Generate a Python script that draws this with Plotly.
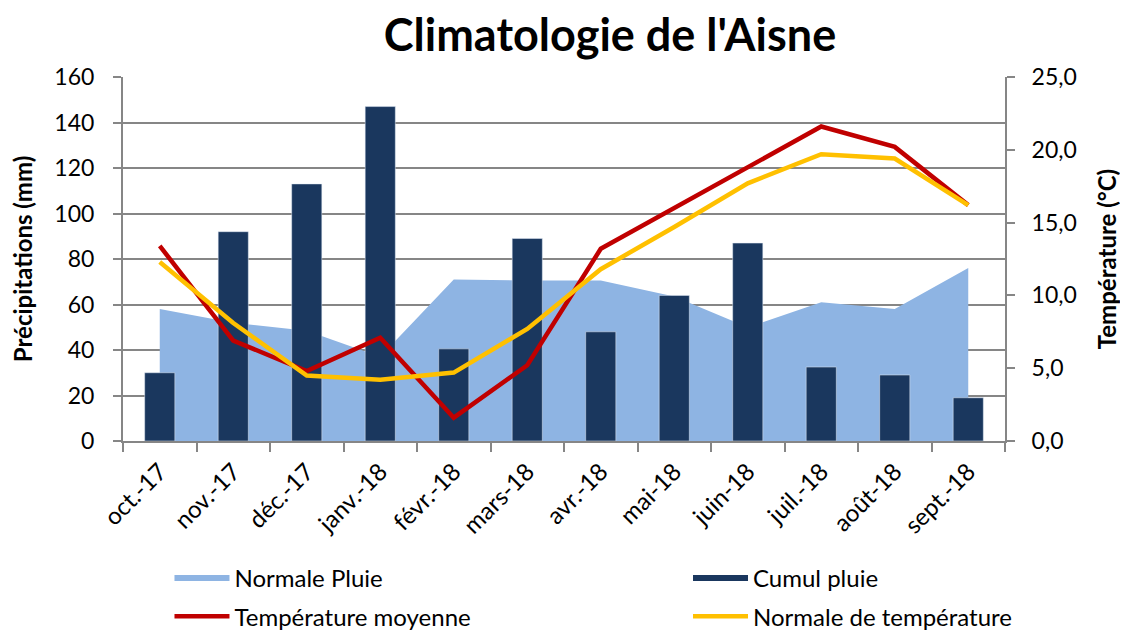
import plotly.graph_objects as go

months = ["oct.-17", "nov.-17", "déc.-17", "janv.-18", "févr.-18", "mars-18",
          "avr.-18", "mai-18", "juin-18", "juil.-18", "août-18", "sept.-18"]
normale_pluie = [58, 52, 48.5, 37, 71, 70.5, 70.5, 63.5, 50, 61, 58, 76]
cumul_pluie = [30, 92, 113, 147, 40.5, 89, 48, 64, 87, 32.5, 29, 19]
temp_moyenne = [13.4, 6.9, 4.8, 7.1, 1.6, 5.2, 13.2, 16.0, 18.8, 21.6, 20.2, 16.2]
normale_temp = [12.3, 8.1, 4.5, 4.2, 4.7, 7.7, 11.8, 14.7, 17.7, 19.7, 19.4, 16.2]

FONT = "Lato"
GRAY = "#868686"
C_NORM = "#8EB4E3"
C_CUMUL = "#1A375E"

fig = go.Figure()
# area (bottom layer, y)
fig.add_trace(go.Scatter(x=months, y=normale_pluie, name="Normale Pluie", mode="none",
                         fill="tozeroy", fillcolor=C_NORM, legend="legend", legendgroup="a"))
# bars (overlay y2, drawn above the area)
fig.add_trace(go.Bar(x=months, y=cumul_pluie, name="Cumul pluie", marker_color=C_CUMUL,
                     width=0.41, yaxis="y2", showlegend=False, legendgroup="b"))
# legend entry for bars (rectangle swatch)
fig.add_trace(go.Scatter(x=[None], y=[None], name="Cumul pluie", mode="none", fill="toself",
                         fillcolor=C_CUMUL, legend="legend2", legendgroup="b"))
# temperature lines (overlay y3, top)
fig.add_trace(go.Scatter(x=months, y=temp_moyenne, name="Température moyenne", mode="lines",
                         line=dict(color="#C00000", width=4.5), yaxis="y3", legend="legend",
                         legendgroup="c"))
fig.add_trace(go.Scatter(x=months, y=normale_temp, name="Normale de température", mode="lines",
                         line=dict(color="#FFC000", width=4.5), yaxis="y3", legend="legend2",
                         legendgroup="d"))

leg_common = dict(orientation="v", yanchor="top", xanchor="left", traceorder="grouped",
                  font=dict(family=FONT, size=24, color="black"), itemwidth=55,
                  bgcolor="rgba(0,0,0,0)", tracegroupgap=4)

fig.update_layout(
    width=1120, height=622,
    margin=dict(l=115, r=123, t=69, b=189, autoexpand=False),
    paper_bgcolor="white", plot_bgcolor="white",
    separators=", ",
    font=dict(family=FONT, size=22, color="black"),
    title=dict(text="<b>Climatologie de l'Aisne</b>", x=0.5375, xanchor="center", y=0.9566,
               yanchor="middle", font=dict(family=FONT, size=45, color="black")),
    showlegend=True,
    legend=dict(x=0.0527, y=-0.316, **leg_common),
    legend2=dict(x=0.6406, y=-0.316, **leg_common),
    xaxis=dict(type="category", range=[-0.5, 11.5], tickangle=-45, tickson="boundaries",
               ticks="outside", ticklen=9, tickcolor=GRAY, tickwidth=2, showline=True,
               linecolor=GRAY, linewidth=2, showgrid=False, automargin=False,
               tickfont=dict(size=24), ticklabelstandoff=5),
    yaxis=dict(range=[0, 160], dtick=20, ticks="outside", ticklen=8, tickcolor=GRAY,
               tickwidth=2, showline=True, linecolor=GRAY, linewidth=2, gridcolor=GRAY,
               gridwidth=2, zeroline=False, automargin=False, ticklabelstandoff=14,
               tickfont=dict(size=23),
               title=dict(text="<b>Précipitations (mm)</b>", font=dict(size=24), standoff=25)),
    yaxis2=dict(range=[0, 160], overlaying="y", visible=False, showgrid=False,
                zeroline=False, automargin=False),
    yaxis3=dict(range=[0, 25], dtick=5, tickformat=".1f", overlaying="y", side="right",
                ticks="outside", ticklen=8, tickcolor=GRAY, tickwidth=2, showline=True,
                linecolor=GRAY, linewidth=2, showgrid=False, zeroline=False,
                automargin=False, ticklabelstandoff=12, tickfont=dict(size=23),
                title=dict(text="<b>Température (°C)</b>", font=dict(size=24), standoff=23)),
)

fig.write_html("out.html")
